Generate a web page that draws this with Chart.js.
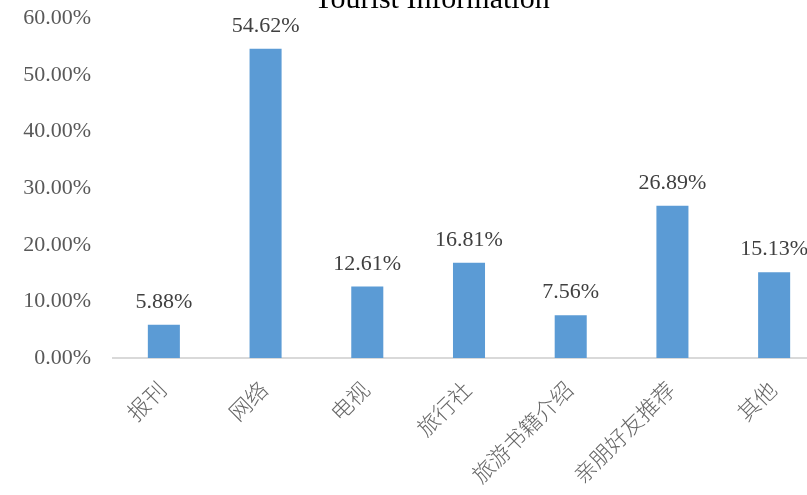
<!DOCTYPE html>
<html>
<head>
<meta charset="utf-8">
<script src="https://cdn.jsdelivr.net/npm/chart.js@4"></script>
<style>
  html, body { margin: 0; padding: 0; background: #fff; overflow: hidden; }
  #wrap { position: relative; width: 807px; height: 495px; overflow: hidden; }
  #chart { position: absolute; left: 0; top: -17px; }
</style>
</head>
<body>
<div id="wrap"><canvas id="chart" width="825" height="512"></canvas></div>
<script>
const title = "Tourist Information";
const categories = ["报刊", "网络", "电视", "旅行社", "旅游书籍介绍", "亲朋好友推荐", "其他"];
const shares = [5.88, 54.62, 12.61, 16.81, 7.56, 26.89, 15.13];

const SERIF = '"Liberation Serif", "Times New Roman", serif';
const CJK = '"Liberation Serif", "Noto Sans CJK SC", serif';

// value labels above each bar
const barLabels = {
  id: "barLabels",
  afterDatasetsDraw(chart) {
    const { ctx } = chart;
    const meta = chart.getDatasetMeta(0);
    ctx.save();
    ctx.font = "22px " + SERIF;
    ctx.fillStyle = "#404040";
    ctx.textAlign = "center";
    ctx.textBaseline = "alphabetic";
    meta.data.forEach((bar, i) => {
      ctx.fillText(shares[i].toFixed(2) + "%", bar.x, bar.y - 17);
    });
    ctx.restore();
  },
};

// title sits partly above the visible area
const topTitle = {
  id: "topTitle",
  afterDraw(chart) {
    const { ctx } = chart;
    ctx.save();
    ctx.font = "30px " + SERIF;
    ctx.fillStyle = "#000";
    ctx.textAlign = "center";
    ctx.textBaseline = "alphabetic";
    ctx.fillText(title, 432, 25);
    ctx.restore();
  },
};

new Chart(document.getElementById("chart"), {
  type: "bar",
  data: {
    labels: categories,
    datasets: [
      {
        data: shares,
        backgroundColor: "#5B9BD5",
        borderWidth: 0,
        categoryPercentage: 1,
        barPercentage: 0.315,
      },
    ],
  },
  options: {
    responsive: false,
    animation: false,
    layout: { padding: { top: 1, right: 0, left: 0, bottom: 0 } },
    plugins: {
      legend: { display: false },
      title: { display: false },
      tooltip: { enabled: false },
    },
    scales: {
      y: {
        min: 0,
        max: 60,
        ticks: {
          stepSize: 10,
          padding: 22,
          color: "#595959",
          font: { family: SERIF, size: 22 },
          callback: (v) => v.toFixed(2) + "%",
        },
        grid: { display: false, drawTicks: false },
        border: { display: false },
        afterFit(scale) { scale.width = 113; },
      },
      x: {
        ticks: {
          minRotation: 45,
          maxRotation: 45,
          padding: 20,
          color: "#666666",
          font: { family: CJK, size: 22, weight: "300" },
        },
        grid: { display: false, drawTicks: false },
        border: { display: true, color: "#D9D9D9", width: 2 },
        afterFit(scale) { scale.height = 137; },
      },
    },
  },
  plugins: [barLabels, topTitle],
});
</script>
</body>
</html>
